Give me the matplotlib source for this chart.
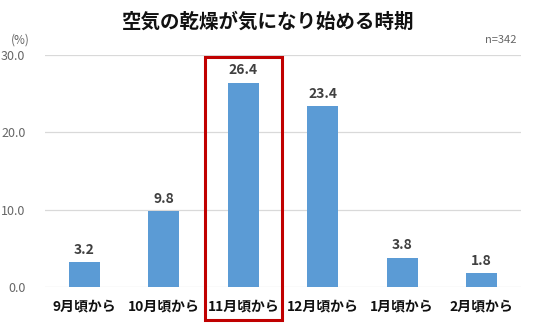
import matplotlib
matplotlib.use("Agg")
import matplotlib.pyplot as plt
from matplotlib.patches import Rectangle

plt.rcParams['font.family'] = ['Noto Sans CJK JP', 'DejaVu Sans']

# データ
categories = ['9月頃から', '10月頃から', '11月頃から', '12月頃から', '1月頃から', '2月頃から']
values = [3.2, 9.8, 26.4, 23.4, 3.8, 1.8]
yticks = [0.0, 10.0, 20.0, 30.0]
highlight = 2  # 11月頃から

fig = plt.figure(figsize=(5.36, 3.26), dpi=100)
ax = fig.add_axes([0.0836, 0.1196, 0.8888, 0.7117])

x = list(range(len(categories)))
ax.bar(x, values, width=0.39, color='#5B9BD5', zorder=3)

# 値ラベル
for xi, v in zip(x, values):
    ax.text(xi, v + 0.7, f'{v:.1f}', ha='center', va='bottom',
            fontsize=10, fontweight='bold', color='#404040')

ax.set_xlim(-0.5, len(categories) - 0.5)
ax.set_ylim(0, 30)
ax.set_yticks(yticks)
ax.set_yticklabels([f'{t:.1f}' for t in yticks], fontsize=9, color='#666666')
ax.set_xticks(x)
ax.set_xticklabels(categories, fontsize=10, fontweight='bold', color='#111111')
ax.tick_params(axis='both', length=0)
ax.tick_params(axis='y', pad=14)
ax.tick_params(axis='x', pad=9)
ax.grid(axis='y', color='#D9D9D9', linewidth=0.9, zorder=0)
for s in ax.spines.values():
    s.set_visible(False)

# 11月の赤枠
rect = Rectangle((highlight - 0.485, -4.27), 0.97, 34.0, fill=False,
                 edgecolor='#C00000', linewidth=2.2, clip_on=False, zorder=4)
ax.add_patch(rect)

fig.text(0.5, 0.932, '空気の乾燥が気になり始める時期', ha='center', va='center',
         fontsize=14, fontweight='bold', color='#111111')
fig.text(0.037, 0.878, '(%)', ha='center', va='center', fontsize=8.5, color='#666666')
fig.text(0.963, 0.877, 'n=342', ha='right', va='center', fontsize=8, color='#666666')

fig.savefig('out.png', dpi=100)
